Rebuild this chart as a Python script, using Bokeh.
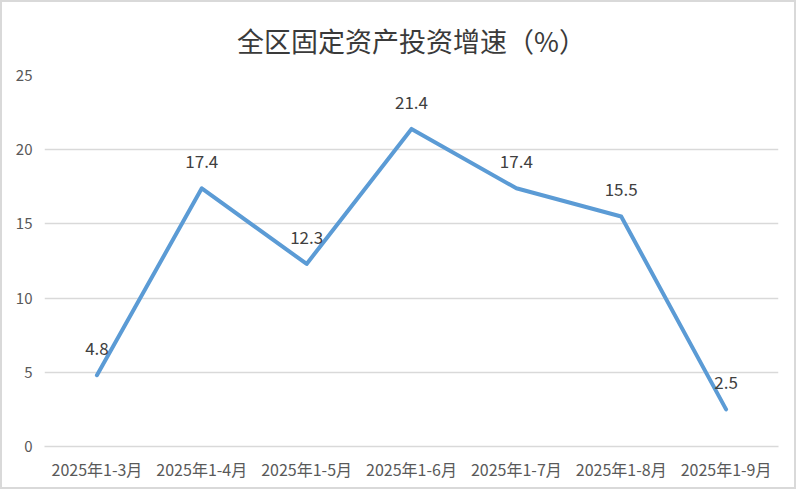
from bokeh.plotting import figure
from bokeh.models import ColumnDataSource, LabelSet, FactorRange, Range1d, FixedTicker
from bokeh.core.properties import value
from bokeh.embed import file_html
from bokeh.resources import INLINE

title_text = "全区固定资产投资增速（%）"
categories = ["2025年1-3月", "2025年1-4月", "2025年1-5月", "2025年1-6月",
              "2025年1-7月", "2025年1-8月", "2025年1-9月"]
values = [4.8, 17.4, 12.3, 21.4, 17.4, 15.5, 2.5]
labels = ["4.8", "17.4", "12.3", "21.4", "17.4", "15.5", "2.5"]
y_ticks = [0, 5, 10, 15, 20, 25]

src = ColumnDataSource(dict(x=categories, y=values, t=labels))

FONT = "Noto Sans CJK SC"

p = figure(width=796, height=489, output_backend="svg", toolbar_location=None,
           x_range=FactorRange(*categories, range_padding=0),
           y_range=Range1d(0, 25),
           title=title_text,
           min_border_left=42, min_border_right=20, min_border_top=73, min_border_bottom=45,
           styles={"border": "2px solid #d9d9d9"})

p.title.align = "center"
p.title.vertical_align = "bottom"
p.title.standoff = 32
p.title.offset = 0
p.title.text_font = FONT
p.title.text_font_size = "27px"
p.title.text_font_style = "normal"
p.title.text_color = "#3a3a3a"

p.outline_line_color = None
p.background_fill_color = "white"
p.border_fill_color = "white"

p.xgrid.grid_line_color = None
p.ygrid.grid_line_color = "#d9d9d9"
p.ygrid.grid_line_width = 1.5
p.yaxis.ticker = FixedTicker(ticks=y_ticks)

for ax in (p.xaxis, p.yaxis):
    ax.major_tick_line_color = None
    ax.minor_tick_line_color = None
    ax.major_tick_out = 0
    ax.major_tick_in = 0
    ax.minor_tick_out = 0
    ax.major_label_text_font = FONT
    ax.major_label_text_color = "#595959"
p.yaxis.axis_line_color = None
p.xaxis.axis_line_color = "#d9d9d9"
p.xaxis.axis_line_width = 1.5
p.yaxis.major_label_text_font_size = "15px"
p.xaxis.major_label_text_font_size = "16px"
p.yaxis.major_label_standoff = 12
p.xaxis.major_label_standoff = 10

p.line("x", "y", source=src, line_color="#5b9bd5", line_width=4, line_join="round", line_cap="round")

ls = LabelSet(x="x", y="y", text="t", source=src, y_offset=20, text_align="center",
              text_baseline="alphabetic", text_font_size="17px", text_color="#404040",
              text_font=value(FONT))
p.add_layout(ls)

open("out.html", "w").write(file_html(p, INLINE))
